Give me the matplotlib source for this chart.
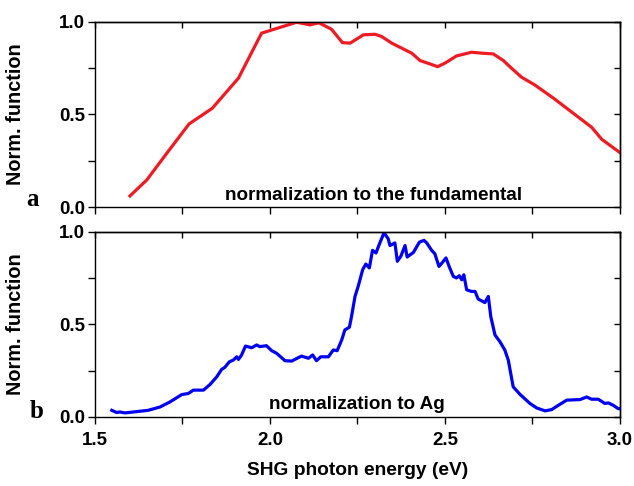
import matplotlib
matplotlib.use("Agg")
import matplotlib.pyplot as plt
from matplotlib.ticker import MultipleLocator

# ── Data ─────────────────────────────────────────────────────────────────────
# (a) normalization to the fundamental
fund_energy = [1.600, 1.648, 1.705, 1.769, 1.835, 1.910, 1.976, 2.076, 2.114,
               2.140, 2.176, 2.207, 2.229, 2.267, 2.300, 2.319, 2.348, 2.405,
               2.429, 2.457, 2.479, 2.500, 2.533, 2.576, 2.605, 2.638, 2.667,
               2.690, 2.719, 2.757, 2.810, 2.867, 2.919, 2.948, 3.000]
fund_norm = [0.060, 0.146, 0.290, 0.449, 0.533, 0.696, 0.939, 0.998, 0.984,
             0.995, 0.960, 0.888, 0.885, 0.930, 0.933, 0.921, 0.885, 0.831,
             0.791, 0.773, 0.758, 0.777, 0.816, 0.836, 0.831, 0.827, 0.791,
             0.750, 0.701, 0.659, 0.588, 0.506, 0.431, 0.366, 0.294]

# (b) normalization to Ag
ag_energy = [1.548, 1.562, 1.571, 1.586, 1.600, 1.652, 1.686, 1.714, 1.748,
             1.767, 1.781, 1.810, 1.829, 1.848, 1.862, 1.871, 1.884, 1.895,
             1.905, 1.910, 1.919, 1.930, 1.948, 1.962, 1.971, 1.990, 2.005,
             2.019, 2.043, 2.062, 2.090, 2.110, 2.122, 2.133, 2.145, 2.167,
             2.181, 2.192, 2.205, 2.214, 2.227, 2.233, 2.243, 2.252, 2.265,
             2.274, 2.284, 2.293, 2.303, 2.314, 2.326, 2.338, 2.343, 2.357,
             2.364, 2.374, 2.386, 2.392, 2.410, 2.427, 2.440, 2.448, 2.462,
             2.471, 2.483, 2.493, 2.503, 2.512, 2.524, 2.533, 2.541, 2.548,
             2.554, 2.562, 2.576, 2.586, 2.595, 2.614, 2.624, 2.631, 2.643,
             2.657, 2.671, 2.681, 2.695, 2.714, 2.743, 2.762, 2.786, 2.805,
             2.824, 2.848, 2.886, 2.905, 2.919, 2.938, 2.957, 2.967, 2.981,
             2.995, 3.000]
ag_norm = [0.036, 0.024, 0.027, 0.022, 0.025, 0.036, 0.054, 0.081, 0.121,
           0.127, 0.145, 0.145, 0.176, 0.217, 0.257, 0.268, 0.298, 0.307,
           0.325, 0.311, 0.335, 0.383, 0.374, 0.389, 0.380, 0.385, 0.358,
           0.344, 0.304, 0.302, 0.329, 0.317, 0.335, 0.304, 0.325, 0.325,
           0.362, 0.358, 0.416, 0.470, 0.485, 0.542, 0.651, 0.705, 0.796,
           0.826, 0.805, 0.900, 0.886, 0.940, 0.995, 0.962, 0.926, 0.940,
           0.841, 0.868, 0.926, 0.864, 0.889, 0.944, 0.954, 0.940, 0.900,
           0.882, 0.813, 0.835, 0.859, 0.813, 0.759, 0.751, 0.763, 0.741,
           0.768, 0.687, 0.678, 0.678, 0.637, 0.618, 0.651, 0.542, 0.443,
           0.407, 0.362, 0.307, 0.163, 0.123, 0.073, 0.049, 0.033, 0.040,
           0.063, 0.091, 0.094, 0.108, 0.096, 0.096, 0.073, 0.076, 0.063,
           0.045, 0.045]

RED = "#ed1c24"
BLUE = "#0000f0"

plt.rcParams.update({
    "font.family": "Liberation Sans",
    "font.weight": "bold",
    "axes.linewidth": 1.0,
})

fig = plt.figure(figsize=(6.34, 4.86), dpi=100)
ax_a = fig.add_axes([0.1498, 0.574, 0.828, 0.381])
ax_b = fig.add_axes([0.1498, 0.142, 0.828, 0.381])

ax_a.plot(fund_energy, fund_norm, color=RED, linewidth=2.3)
ax_b.plot(ag_energy, ag_norm, color=BLUE, linewidth=2.3)

for ax in (ax_a, ax_b):
    ax.set_xlim(1.5, 3.0)
    ax.set_ylim(0.0, 1.0)
    ax.xaxis.set_major_locator(MultipleLocator(0.5))
    ax.xaxis.set_minor_locator(MultipleLocator(0.25))
    ax.yaxis.set_major_locator(MultipleLocator(0.5))
    ax.yaxis.set_minor_locator(MultipleLocator(0.25))
    ax.yaxis.set_major_formatter("{x:.1f}")
    ax.xaxis.set_major_formatter("{x:.1f}")
    ax.tick_params(which="both", direction="out", length=5, width=1.0,
                   labelsize=13.5, pad=2)
    ax.tick_params(axis="x", pad=6)
    # mirrored inward ticks on top and right
    top = ax.secondary_xaxis("top")
    top.xaxis.set_major_locator(MultipleLocator(0.25))
    top.tick_params(direction="in", length=4, width=1.0, labeltop=False)
    right = ax.secondary_yaxis("right")
    right.yaxis.set_major_locator(MultipleLocator(0.25))
    right.tick_params(direction="in", length=4, width=1.0, labelright=False)
    ax.set_ylabel("Norm. function", fontsize=14.3, fontweight="bold")
    ax.yaxis.set_label_coords(-0.133, 0.5)

ax_a.tick_params(axis="x", labelbottom=False)

ax_a.text(2.297, 0.04, "normalization to the fundamental", ha="center",
          va="baseline", fontsize=13.6, fontweight="bold")
ax_b.text(2.247, 0.042, "normalization to Ag", ha="center",
          va="baseline", fontsize=13.6, fontweight="bold")

ax_b.set_xlabel("SHG photon energy (eV)", fontsize=13.8, fontweight="bold")
ax_b.xaxis.set_label_coords(0.5, -0.245)

fig.text(0.052, 0.576, "a", family="Liberation Serif", fontweight="bold",
         fontsize=18, ha="center", va="baseline")
fig.text(0.057, 0.140, "b", family="Liberation Serif", fontweight="bold",
         fontsize=18, ha="center", va="baseline")

fig.savefig("out.png", dpi=100)
plt.close(fig)
